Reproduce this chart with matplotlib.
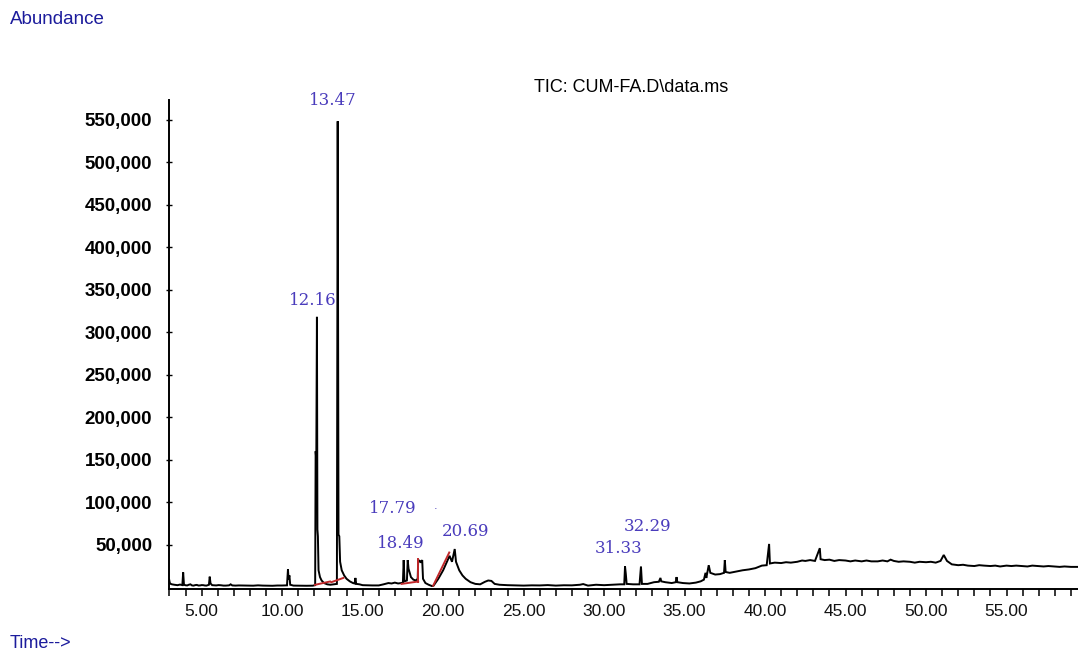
import matplotlib
matplotlib.use("Agg")
import matplotlib.pyplot as plt
from matplotlib.ticker import MultipleLocator, FuncFormatter

# ---- data ----
time_min = [
    2.98, 3.02, 3.08, 3.15, 3.3, 3.5, 3.65, 3.8, 3.85, 3.9, 4.0, 4.1, 4.2, 4.3, 4.4, 4.5, 4.6, 4.7, 4.8, 4.9,
    5.0, 5.1, 5.2, 5.3, 5.45, 5.5, 5.55, 5.65, 5.8, 5.9, 6.05, 6.2, 6.35, 6.5, 6.7, 6.8, 6.9, 7.1, 7.3, 7.6,
    7.9, 8.2, 8.5, 8.8, 9.1, 9.4, 9.7, 10.0, 10.3, 10.36, 10.4, 10.45, 10.5, 10.7, 11.0, 11.5, 11.9, 12.05,
    12.08, 12.12, 12.16, 12.19, 12.22, 12.26, 12.35, 12.45, 12.6, 12.8, 13.0, 13.2, 13.4,
    13.45, 13.5, 13.55, 13.6, 13.7, 13.85, 14.0, 14.2, 14.4, 14.5, 14.55, 14.6, 14.8, 15.0, 15.3, 15.6,
    16.0, 16.3, 16.6, 16.8, 17.0, 17.2, 17.4, 17.5, 17.55, 17.6, 17.75, 17.8, 17.85, 18.0, 18.15, 18.3,
    18.42, 18.45, 18.55, 18.6, 18.7, 18.75, 18.9, 19.1, 19.3, 19.4, 19.7, 20.0, 20.4, 20.55, 20.72,
    20.8, 20.9, 21.0, 21.2, 21.4, 21.7, 22.0, 22.3, 22.6, 22.8, 23.0, 23.2, 23.5, 24.0, 24.5, 25.0,
    25.5, 26.0, 26.5, 27.0, 27.5, 28.0, 28.5, 28.7, 29.0, 29.5, 30.0, 30.5, 31.0, 31.25, 31.3, 31.35,
    31.4, 31.8, 32.2, 32.29, 32.35, 32.7, 33.1, 33.4, 33.5, 33.55, 33.8, 34.2, 34.45, 34.5, 34.55, 34.9,
    35.3, 35.7, 36.0, 36.2, 36.3, 36.35, 36.5, 36.6, 36.9, 37.2, 37.45, 37.5, 37.55, 37.8, 38.2, 38.6,
    39.0, 39.4, 39.8, 40.1, 40.25, 40.3, 40.6, 41.0, 41.3, 41.6, 42.0, 42.3, 42.5, 42.8, 43.1, 43.4,
    43.45, 43.7, 44.0, 44.3, 44.6, 45.0, 45.3, 45.6, 46.0, 46.3, 46.6, 47.0, 47.3, 47.6, 47.8, 48.0,
    48.3, 48.6, 49.0, 49.3, 49.6, 50.0, 50.3, 50.6, 50.9, 51.1, 51.3, 51.6, 52.0, 52.3, 52.6, 53.0,
    53.3, 53.6, 54.0, 54.3, 54.6, 55.0, 55.3, 55.6, 56.0, 56.3, 56.6, 57.0, 57.3, 57.6, 58.0, 58.3,
    58.6, 59.0, 59.44,
]
abundance = [
    9000, 5000, 4000, 3500, 3000, 2500, 3200, 2600, 17500, 3000, 2400, 2200, 3000, 3500, 2200, 2000, 2600, 2800, 2100, 2200,
    2600, 2500, 2100, 2000, 3000, 12500, 4500, 2500, 2300, 2200, 2600, 2400, 2000, 2000, 2300, 3500, 2200, 2000, 2200, 2100,
    2000, 1900, 2300, 2000, 1900, 1800, 2100, 2100, 2300, 21000, 9000, 14000, 3000, 2000, 1900, 1800, 1900, 2500,
    160000, 150000, 318000, 68000, 60000, 20000, 12000, 8000, 5000, 3500, 3000, 3500, 4000,
    548000, 62000, 60000, 30000, 20000, 14000, 10000, 7000, 5000, 4500, 11000, 4000, 3500, 2500, 2300, 2200,
    2200, 3500, 5000, 4500, 5500, 4500, 5000, 5500, 32000, 7000, 8000, 32000, 22000, 12000, 9000, 8000,
    10000, 32000, 31000, 29000, 32000, 10000, 5000, 3000, 1500, 1800, 10000, 20000, 37000, 30000, 45000,
    30000, 25000, 20000, 14000, 10000, 6000, 4000, 3500, 6500, 8000, 7500, 4000, 3000, 2500, 2200, 2000,
    2300, 2200, 2600, 2000, 2400, 2300, 3000, 3800, 2000, 3000, 2500, 3000, 3500, 3500, 24500, 15500,
    4000, 3500, 3500, 24500, 4000, 4000, 6000, 6500, 11000, 7000, 6000, 5000, 6000, 12000, 6000, 5000,
    4500, 5500, 7000, 9000, 17000, 11000, 26000, 17000, 15000, 15500, 17000, 32000, 18000, 17000, 18500, 20000,
    21000, 22500, 25500, 26000, 51000, 28000, 29000, 28500, 29500, 29000, 30000, 31500, 31000, 32000, 31000, 46000,
    33000, 32000, 32500, 31000, 32000, 31500, 30500, 31500, 30500, 31500, 30500, 30500, 31500, 30500, 32500, 31000,
    30000, 30500, 30000, 29000, 30000, 29500, 30000, 29000, 31000, 38000, 31000, 27000, 26000, 26500, 25500, 25000,
    26000, 25500, 25000, 25500, 24500, 25500, 25000, 25500, 25000, 24500, 25500, 25000, 24500, 25000, 24500, 24000,
    24500, 24000, 24000,
]

# integration baselines (red)
base_t0 = [12.04, 13.05, 17.42, 18.45, 19.38]
base_y0 = [2900, 6000, 4000, 6800, 1900]
base_t1 = [12.97, 13.80, 18.45, 18.45, 20.38]
base_y1 = [6800, 11000, 6800, 33000, 40900]

# peak labels
peak_labels = ["13.47", "12.16", "17.79", "18.49", "20.69", "31.33", "32.29"]
label_t = [13.16, 11.91, 16.86, 17.38, 21.40, 30.88, 32.68]
label_y = [572000, 337000, 92400, 51500, 65200, 45700, 71000]

x_major = [5, 10, 15, 20, 25, 30, 35, 40, 45, 50, 55]
y_major = [50000, 100000, 150000, 200000, 250000, 300000, 350000, 400000, 450000, 500000, 550000]

# ---- figure ----
fig = plt.figure(figsize=(10.78, 6.53), dpi=100)
ax = fig.add_axes([169/1078, 1 - 589/653, 1 - 169/1078, (589 - 100)/653])

ax.plot(time_min, abundance, color="black", lw=1.4, solid_joinstyle="miter")
for a, b, c, d in zip(base_t0, base_y0, base_t1, base_y1):
    ax.plot([a, c], [b, d], color="#c0282a", lw=1.4)

label_color = "#4a3cbc"
for s, t, y in zip(peak_labels, label_t, label_y):
    ax.text(t, y, s, ha="center", va="center", color=label_color,
            fontsize=12, family="DejaVu Serif", clip_on=False)
ax.text(19.55, 89400, ".", ha="center", va="bottom", color=label_color, fontsize=8)

ax.set_xlim(2.97, 59.44)
ax.set_ylim(-2000, 573000)

for side in ("top", "right"):
    ax.spines[side].set_visible(False)
ax.spines["left"].set_linewidth(1.4)
ax.spines["bottom"].set_linewidth(1.4)

ax.set_xticks(x_major)
ax.xaxis.set_minor_locator(MultipleLocator(1))
ax.xaxis.set_major_formatter(FuncFormatter(lambda v, p: f"{v:.2f}"))
ax.set_yticks(y_major)
ax.yaxis.set_major_formatter(FuncFormatter(lambda v, p: f"{int(v):,}"))

ax.tick_params(axis="x", which="both", direction="out", length=5, width=1.1, pad=6,
               labelsize=12.5, labelcolor="#111111")
ax.tick_params(axis="y", which="major", direction="inout", length=4, width=1.0, pad=10,
               labelsize=13.5)
for lbl in ax.get_xticklabels():
    lbl.set_family("Liberation Sans")
for lbl in ax.get_yticklabels():
    lbl.set_family("Liberation Sans")
    lbl.set_fontweight("bold")

fig.text(10/1078, 1 - 20/653, "Abundance", color="#1c1c9c", fontsize=13.5,
         family="Liberation Sans", ha="left", va="center")
fig.text(10/1078, 1 - 643/653, "Time-->", color="#1c1c9c", fontsize=13,
         family="Liberation Sans", ha="left", va="center")
fig.text(631/1078, 1 - 88/653, "TIC: CUM-FA.D\\data.ms", color="black", fontsize=13,
         family="Liberation Sans", ha="center", va="center")

fig.savefig("out.png", dpi=100)
